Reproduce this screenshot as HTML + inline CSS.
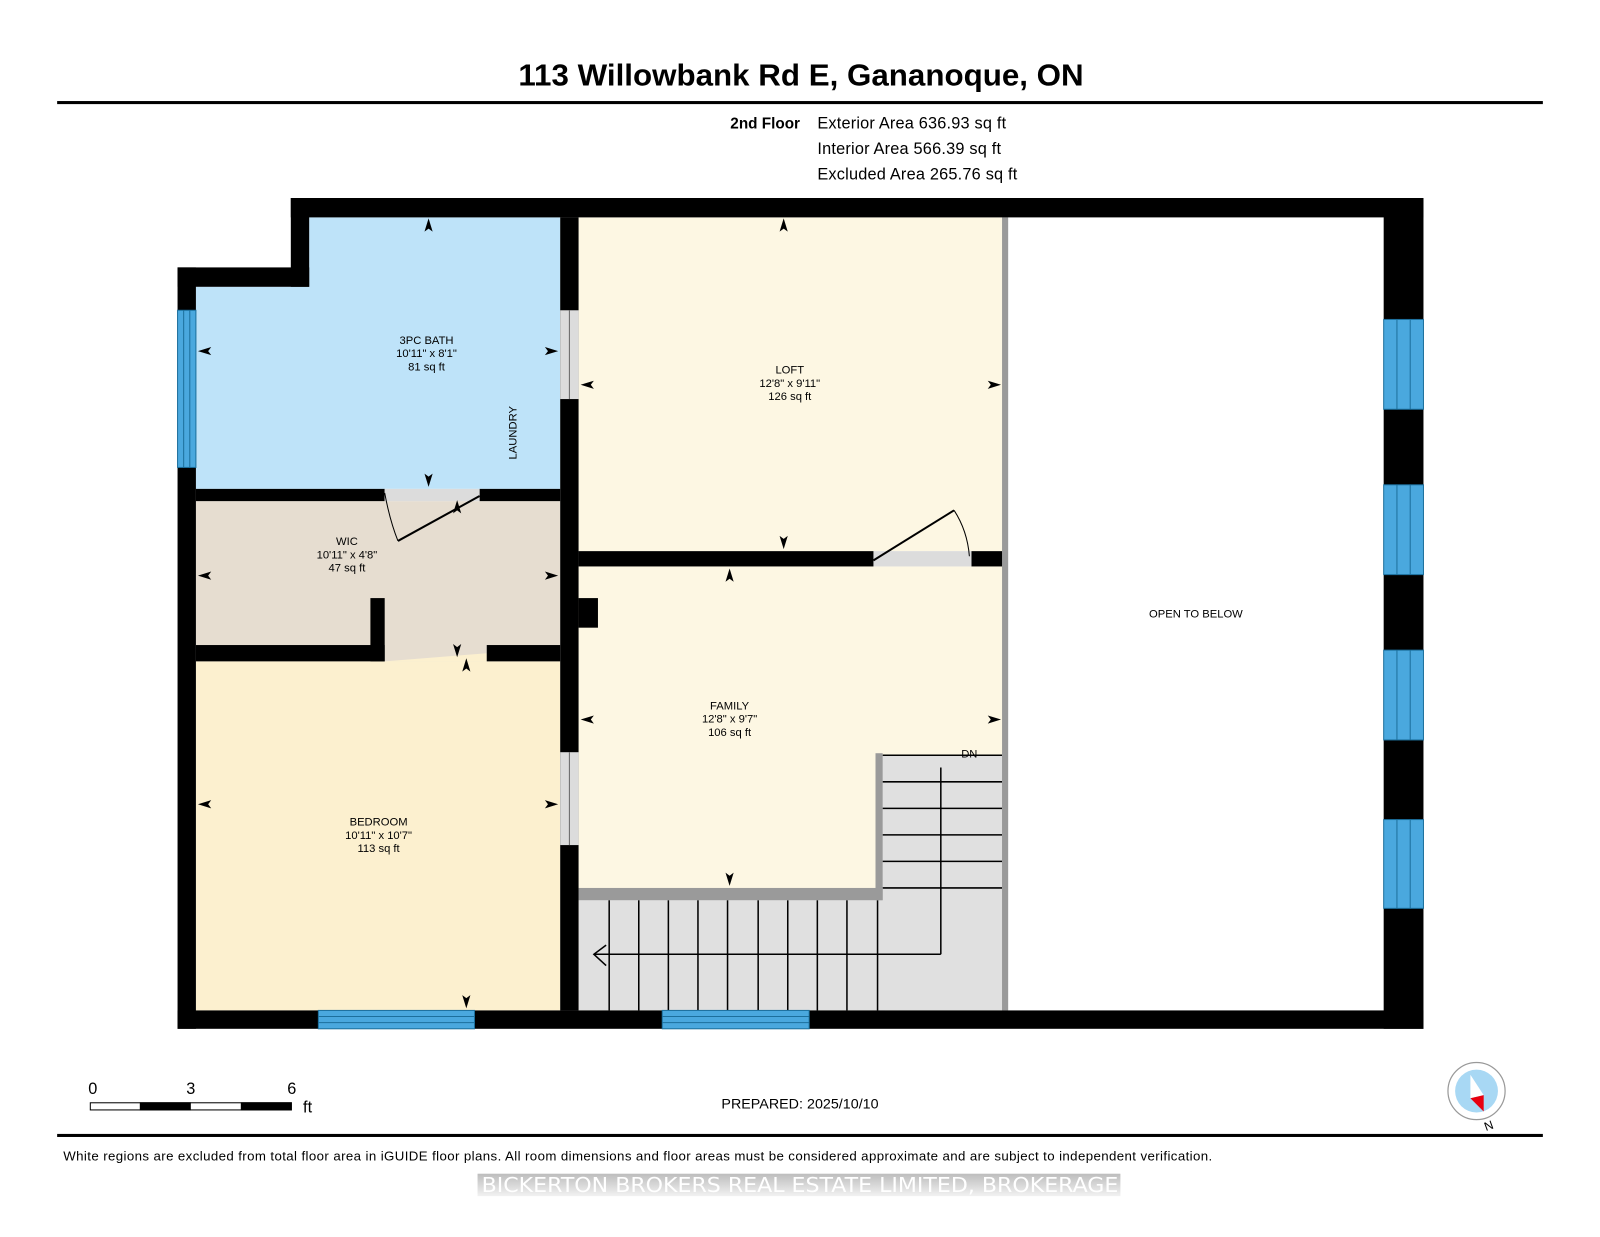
<!DOCTYPE html>
<html><head><meta charset="utf-8"><style>html,body{margin:0;padding:0;background:#fff;}svg{display:block}</style></head>
<body>
<svg width="1600" height="1237" viewBox="0 0 1568 1212" preserveAspectRatio="none" xmlns="http://www.w3.org/2000/svg" font-family="Liberation Sans, Arial, sans-serif">
<rect width="1568" height="1212" fill="#fff"/>
<text x="785" y="84" text-anchor="middle" font-size="30" font-weight="bold" textLength="554" lengthAdjust="spacingAndGlyphs">113 Willowbank Rd E, Gananoque, ON</text>
<rect x="56" y="99" width="1456" height="3" fill="#000"/>
<text x="784" y="126" text-anchor="end" font-size="15" font-weight="bold">2nd Floor</text>
<g font-size="16"><text x="801" y="126" textLength="185">Exterior Area 636.93 sq ft</text><text x="801" y="151" textLength="180">Interior Area 566.39 sq ft</text><text x="801" y="176" textLength="196">Excluded Area 265.76 sq ft</text></g>

<!-- fills -->
<path d="M303 213 H549 V479 H192 V281 H303 Z" fill="#bee3f9"/>
<rect x="192" y="491" width="357" height="141" fill="#e6ddd0"/>
<polygon points="377,632 477,632 477,648 377,648" fill="#e6ddd0"/>
<rect x="192" y="648" width="357" height="342" fill="#fcf0cf"/>
<polygon points="377,648 477,640 477,648" fill="#fcf0cf"/>
<rect x="567" y="213" width="416" height="327" fill="#fdf7e3"/>
<rect x="567" y="555" width="416" height="435" fill="#fdf7e3"/>
<!-- stairs -->
<rect x="567" y="872" width="300" height="118" fill="#e0e0e0"/>
<rect x="860" y="740" width="123" height="250" fill="#e0e0e0"/>
<g stroke="#000" stroke-width="1.5">
<line x1="597" y1="882" x2="597" y2="990"/><line x1="626" y1="882" x2="626" y2="990"/><line x1="655" y1="882" x2="655" y2="990"/><line x1="684" y1="882" x2="684" y2="990"/><line x1="713" y1="882" x2="713" y2="990"/><line x1="743" y1="882" x2="743" y2="990"/><line x1="772" y1="882" x2="772" y2="990"/><line x1="801" y1="882" x2="801" y2="990"/><line x1="830" y1="882" x2="830" y2="990"/><line x1="860" y1="882" x2="860" y2="990"/>
<line x1="865" y1="740" x2="982" y2="740"/><line x1="865" y1="766" x2="982" y2="766"/><line x1="865" y1="792" x2="982" y2="792"/><line x1="865" y1="818" x2="982" y2="818"/><line x1="865" y1="844" x2="982" y2="844"/><line x1="865" y1="870" x2="982" y2="870"/>
<line x1="922" y1="752" x2="922" y2="935"/><line x1="582" y1="935" x2="922" y2="935"/>
<polyline points="594,926 582,935 594,946" fill="none"/>
</g>
<rect x="567" y="870" width="298" height="12" fill="#9a9a9a"/>
<rect x="858" y="738" width="7" height="144" fill="#9a9a9a"/>
<rect x="982" y="213" width="6" height="777" fill="#9a9a9a"/>
<text x="942" y="742" font-size="11">DN</text>

<!-- walls -->
<g fill="#000">
<rect x="285" y="194" width="1110" height="19"/>
<rect x="1356" y="194" width="39" height="814"/>
<rect x="174" y="990" width="1221" height="18"/>
<rect x="174" y="262" width="18" height="746"/>
<rect x="174" y="262" width="129" height="19"/>
<rect x="285" y="194" width="18" height="87"/>
<rect x="192" y="479" width="185" height="12"/>
<rect x="470" y="479" width="79" height="12"/>
<rect x="549" y="213" width="18" height="777"/>
<rect x="567" y="586" width="19" height="29"/>
<rect x="192" y="632" width="185" height="16"/>
<rect x="363" y="586" width="14" height="62"/>
<rect x="477" y="632" width="72" height="16"/>
<rect x="567" y="540" width="289" height="15"/>
<rect x="952" y="540" width="30" height="15"/>
</g>
<!-- door gaps -->
<g fill="#dcdcdc">
<rect x="549" y="304" width="18" height="87"/><rect x="549" y="737" width="18" height="91"/>
<rect x="377" y="479" width="93" height="12"/><rect x="856" y="540" width="96" height="15"/>
</g>
<line x1="558" y1="304" x2="558" y2="391" stroke="#666"/><line x1="558" y1="737" x2="558" y2="828" stroke="#666"/>
<g stroke="#000" stroke-width="2" fill="none">
<line x1="470" y1="486" x2="390" y2="530"/><path d="M377 483 Q382 510 390 530" stroke-width="1"/>
<line x1="856" y1="549" x2="935" y2="500"/><path d="M935 500 Q948 520 950 545" stroke-width="1"/>
</g>
<!-- windows -->
<g fill="#4aa8de" stroke="#1c6f9c" stroke-width="1">
<rect x="174" y="304" width="18" height="154"/>
<rect x="1356" y="313" width="39" height="88"/><rect x="1356" y="475" width="39" height="88"/><rect x="1356" y="637" width="39" height="88"/><rect x="1356" y="803" width="39" height="87"/>
<rect x="312" y="990" width="153" height="18"/><rect x="649" y="990" width="144" height="18"/>
</g>
<g stroke="#1c6f9c"><line x1="180" y1="304" x2="180" y2="458"/><line x1="186" y1="304" x2="186" y2="458"/>
<line x1="1369" y1="313" x2="1369" y2="401"/><line x1="1382" y1="313" x2="1382" y2="401"/>
<line x1="1369" y1="475" x2="1369" y2="563"/><line x1="1382" y1="475" x2="1382" y2="563"/>
<line x1="1369" y1="637" x2="1369" y2="725"/><line x1="1382" y1="637" x2="1382" y2="725"/>
<line x1="1369" y1="803" x2="1369" y2="890"/><line x1="1382" y1="803" x2="1382" y2="890"/>
<line x1="312" y1="996" x2="465" y2="996"/><line x1="312" y1="1002" x2="465" y2="1002"/>
<line x1="649" y1="996" x2="793" y2="996"/><line x1="649" y1="1002" x2="793" y2="1002"/></g>

<!-- labels -->
<g font-size="11" text-anchor="middle">
<text x="418" y="337">3PC BATH</text><text x="418" y="350">10'11" x 8'1"</text><text x="418" y="363">81 sq ft</text>
<text x="340" y="534">WIC</text><text x="340" y="547">10'11" x 4'8"</text><text x="340" y="560">47 sq ft</text>
<text x="371" y="809">BEDROOM</text><text x="371" y="822">10'11" x 10'7"</text><text x="371" y="835">113 sq ft</text>
<text x="774" y="366">LOFT</text><text x="774" y="379">12'8" x 9'11"</text><text x="774" y="392">126 sq ft</text>
<text x="715" y="695">FAMILY</text><text x="715" y="708">12'8" x 9'7"</text><text x="715" y="721">106 sq ft</text>
<text x="1172" y="605">OPEN TO BELOW</text>
<text transform="translate(506,424) rotate(-90)">LAUNDRY</text>
</g>
<!-- dimension arrows -->
<g fill="#000">
<path d="M420 214 l-4 13 l4 -3 l4 3z"/><path d="M420 477 l-4 -13 l4 3 l4 -3z"/>
<path d="M194 344 l13 -4 l-3 4 l3 4z"/><path d="M547 344 l-13 -4 l3 4 l-3 4z"/>
<path d="M194 564 l13 -4 l-3 4 l3 4z"/><path d="M547 564 l-13 -4 l3 4 l-3 4z"/>
<path d="M448 490 l-4 13 l4 -3 l4 3z"/><path d="M448 644 l-4 -13 l4 3 l4 -3z"/>
<path d="M194 788 l13 -4 l-3 4 l3 4z"/><path d="M547 788 l-13 -4 l3 4 l-3 4z"/>
<path d="M457 645 l-4 13 l4 -3 l4 3z"/><path d="M457 988 l-4 -13 l4 3 l4 -3z"/>
<path d="M768 214 l-4 13 l4 -3 l4 3z"/><path d="M768 538 l-4 -13 l4 3 l4 -3z"/>
<path d="M569 377 l13 -4 l-3 4 l3 4z"/><path d="M981 377 l-13 -4 l3 4 l-3 4z"/>
<path d="M715 557 l-4 13 l4 -3 l4 3z"/><path d="M715 868 l-4 -13 l4 3 l4 -3z"/>
<path d="M569 705 l13 -4 l-3 4 l3 4z"/><path d="M981 705 l-13 -4 l3 4 l-3 4z"/>
</g>

<!-- scale -->
<g font-size="16"><text x="91" y="1072" text-anchor="middle">0</text><text x="187" y="1072" text-anchor="middle">3</text><text x="286" y="1072" text-anchor="middle">6</text><text x="297" y="1090">ft</text></g>
<rect x="88.5" y="1080.5" width="197" height="7" fill="#fff" stroke="#000"/>
<rect x="137" y="1080" width="50" height="8" fill="#000"/><rect x="236" y="1080" width="50" height="8" fill="#000"/>
<text x="784" y="1086" text-anchor="middle" font-size="14" textLength="154">PREPARED: 2025/10/10</text>
<!-- compass -->
<circle cx="1447" cy="1069" r="28" fill="#fff" stroke="#999" stroke-width="1.2"/>
<circle cx="1447" cy="1069" r="21" fill="#a8d8f4"/>
<polygon points="1441,1053 1454,1073 1441,1076" fill="#fff"/>
<polygon points="1441,1076 1454,1073 1454,1089" fill="#e8000f"/>
<text x="1459" y="1107" font-size="12" text-anchor="middle" transform="rotate(-20 1459 1103)">N</text>
<rect x="56" y="1111" width="1456" height="3" fill="#000"/>
<text x="62" y="1137" font-size="13" textLength="1126">White regions are excluded from total floor area in iGUIDE floor plans. All room dimensions and floor areas must be considered approximate and are subject to independent verification.</text>
<defs><linearGradient id="wg" x1="0" y1="0" x2="0" y2="1"><stop offset="0" stop-color="#bdbdbd"/><stop offset="1" stop-color="#f2f2f2"/></linearGradient></defs>
<rect x="468" y="1150" width="630" height="22" fill="url(#wg)"/>
<text x="472" y="1168" font-size="20" fill="#fff" font-family="DejaVu Sans, sans-serif" textLength="624" lengthAdjust="spacingAndGlyphs">BICKERTON BROKERS REAL ESTATE LIMITED, BROKERAGE</text>
</svg>
</body></html>
